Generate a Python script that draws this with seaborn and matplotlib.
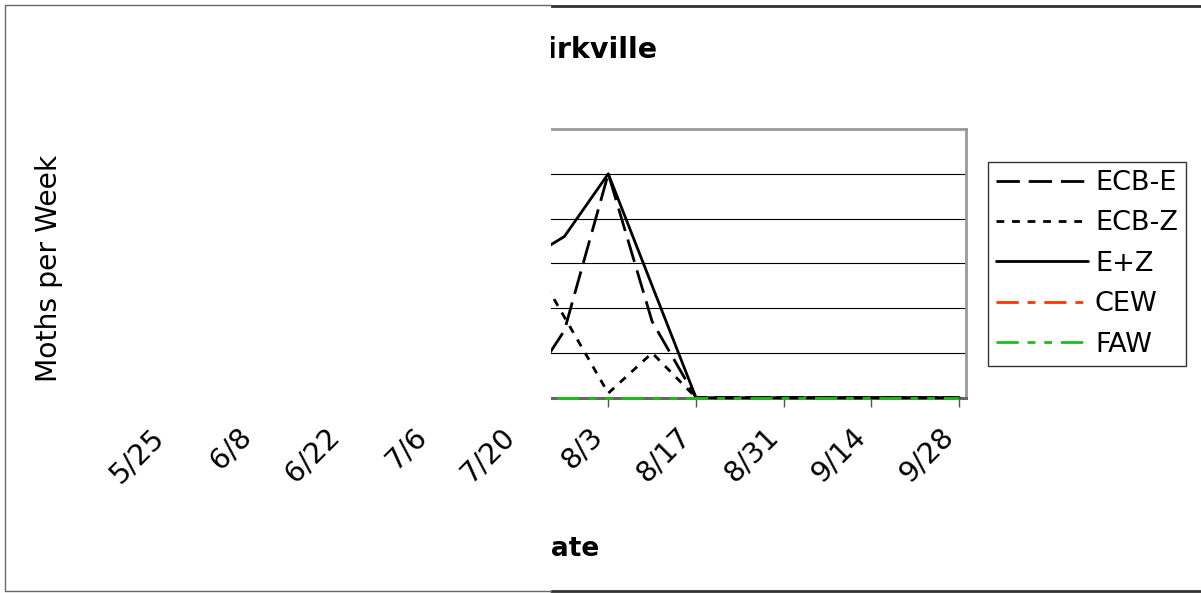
import seaborn as sns
import matplotlib.pyplot as plt
import pandas as pd
from matplotlib.patches import Rectangle
from matplotlib.lines import Line2D

sns.set_theme(style="white")
plt.rcParams['font.family'] = ['DejaVu Sans']
plt.rcParams['text.color'] = 'black'
plt.rcParams['axes.labelcolor'] = 'black'
plt.rcParams['xtick.color'] = 'black'
plt.rcParams['ytick.color'] = 'black'

# weekly trap catches, Kirkville
weeks = ['5/25', '6/1', '6/8', '6/15', '6/22', '6/29', '7/6', '7/13', '7/20', '7/27',
         '8/3', '8/10', '8/17', '8/24', '8/31', '9/7', '9/14', '9/21', '9/28']
ecb_e = [0, 0, 1, 3, 5, 4, 2, 1, 0, 7.5, 25, 8.5, 0, 0, 0, 0, 0, 0, 0]
ecb_z = [0, 1, 3, 6, 9, 7, 4, 8, 17.5, 9, 0.5, 5, 0, 0, 0, 0, 0, 0, 0]
e_plus_z = [0, 1, 4, 9, 14, 11, 6, 9, 15, 18, 25, 12.5, 0, 0, 0, 0, 0, 0, 0]
cew = [0] * 19
faw = [0] * 19
tick_labels = ['5/25', '6/8', '6/22', '7/6', '7/20', '8/3', '8/17', '8/31', '9/14', '9/28']

dates = pd.to_datetime(['2008/' + w for w in weeks])
tick_dates = pd.to_datetime(['2008/' + t for t in tick_labels])

W, H = 1201, 593
fig = plt.figure(figsize=(W / 100, H / 100), dpi=100)
pos = [132 / W, 1 - 397.7 / H, (966 - 132) / W, (397.7 - 129) / H]
ax = fig.add_axes(pos, zorder=0)

lw = 2.0
sns.lineplot(x=dates, y=ecb_e, ax=ax, color='black', lw=lw, linestyle=(0, (8.4, 3.2)),
             label='ECB-E', zorder=3, clip_on=False)
sns.lineplot(x=dates, y=ecb_z, ax=ax, color='black', lw=lw, linestyle=(0, (2.8, 2.8)),
             label='ECB-Z', zorder=3, clip_on=False)
sns.lineplot(x=dates, y=e_plus_z, ax=ax, color='black', lw=lw, linestyle='-',
             label='E+Z', zorder=3, clip_on=False)
sns.lineplot(x=dates, y=cew, ax=ax, color='#ff3300', lw=lw, linestyle=(0, (8, 3.2, 2.8, 3.2)),
             label='CEW', zorder=2, clip_on=False)
sns.lineplot(x=dates, y=faw, ax=ax, color='#1fbb1f', lw=lw,
             linestyle=(0, (8, 3.2, 2.8, 3.2, 2.8, 3.2)), label='FAW', zorder=3.1, clip_on=False)

ax.set_xlim(pd.Timestamp('2008-05-19'), pd.Timestamp('2008-09-29 02:00'))
ax.set_ylim(0, 30)
ax.set_yticks([0, 5, 10, 15, 20, 25, 30])
ax.set_xticks(tick_dates, tick_labels)
ax.yaxis.grid(True, color='black', lw=0.8)
ax.set_xlabel('')
ax.set_ylabel('')
for s in ['top', 'right']:
    ax.spines[s].set_color('#999999')
    ax.spines[s].set_linewidth(2)
ax.spines['left'].set_color('#777777')
ax.spines['bottom'].set_color('#666666')
ax.spines['bottom'].set_linewidth(2.2)
ax.tick_params(axis='x', direction='out', length=6.5, width=1, color='#555555',
               bottom=True, labelbottom=False)
ax.tick_params(axis='y', labelsize=16)

leg = ax.legend(loc='upper left', bbox_to_anchor=(988 / W, 1 - 162 / H),
                bbox_transform=fig.transFigure, fontsize=19.5, handlelength=3.4,
                handletextpad=0.25, labelspacing=0.53, borderpad=0.3, borderaxespad=0,
                frameon=True, fancybox=False, framealpha=1)
leg.get_frame().set_edgecolor('#333333')
leg.get_frame().set_linewidth(1.0)

fig.text(591 / W, 1 - 58 / H, 'Kirkville', ha='center', va='baseline',
         fontsize=20.5, fontweight='bold', zorder=0.5)
fig.text(565 / W, 1 - 556 / H, 'Date', ha='center', va='baseline',
         fontsize=19, fontweight='bold', zorder=0.5)

# chart area border (right part)
fig.add_artist(Line2D([551 / W, 1], [1 - 6 / H, 1 - 6 / H], color='#333333', lw=2, zorder=0.6))
fig.add_artist(Line2D([551 / W, 1], [1 - 591 / H, 1 - 591 / H], color='#333333', lw=2, zorder=0.6))

# white panel over the left part of the chart
fig.add_artist(Rectangle((4.5 / W, 1 - 591 / H), (551 - 4.5) / W, (591 - 5) / H,
                         transform=fig.transFigure, facecolor='white', edgecolor='none', zorder=1))
fig.add_artist(Line2D([551 / W, 4.5 / W, 4.5 / W, 551 / W],
                      [1 - 5 / H, 1 - 5 / H, 1 - 591 / H, 1 - 591 / H],
                      color='#666666', lw=1, zorder=1.1))

# labels that sit on top of the panel
ax2 = fig.add_axes(pos, sharex=ax, sharey=ax, zorder=2)
ax2.patch.set_visible(False)
for s in ax2.spines.values():
    s.set_visible(False)
ax2.tick_params(axis='x', length=0, pad=18, labelsize=20.5, labelrotation=45, labelbottom=True)
ax2.tick_params(axis='y', left=False, labelleft=False)
ax2.grid(False)
for lab in ax2.get_xticklabels():
    lab.set_ha('right')
ax2.set_ylabel('Moths per Week', fontsize=20.3)
ax2.yaxis.set_label_coords(63 / W, 1 - 268 / H, transform=fig.transFigure)

fig.savefig('out.png', dpi=100)
